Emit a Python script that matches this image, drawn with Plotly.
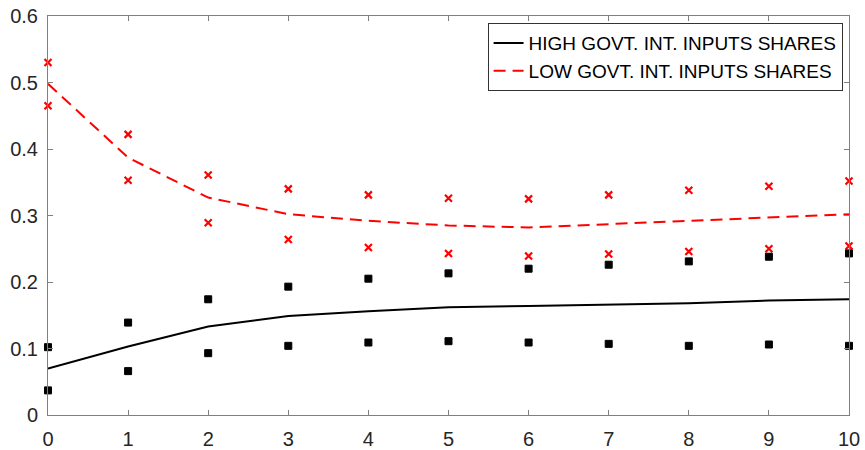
import plotly.graph_objects as go

horizon = [0, 1, 2, 3, 4, 5, 6, 7, 8, 9, 10]

high_line = [0.070, 0.103, 0.133, 0.149, 0.156, 0.162, 0.164, 0.166, 0.168, 0.172, 0.174]
high_upper = [0.102, 0.139, 0.174, 0.193, 0.205, 0.213, 0.220, 0.226, 0.231, 0.238, 0.243]
high_lower = [0.037, 0.066, 0.093, 0.104, 0.109, 0.111, 0.109, 0.107, 0.104, 0.106, 0.104]

low_line = [0.498, 0.387, 0.327, 0.302, 0.292, 0.285, 0.282, 0.287, 0.292, 0.297, 0.302]
low_upper = [0.530, 0.422, 0.361, 0.340, 0.331, 0.326, 0.325, 0.331, 0.338, 0.344, 0.352]
low_lower = [0.465, 0.353, 0.289, 0.264, 0.252, 0.243, 0.239, 0.242, 0.246, 0.250, 0.254]

x_ticks = [0, 1, 2, 3, 4, 5, 6, 7, 8, 9, 10]
y_ticks = [0, 0.1, 0.2, 0.3, 0.4, 0.5, 0.6]
y_tick_text = ["0", "0.1", "0.2", "0.3", "0.4", "0.5", "0.6"]

FONT = "Liberation Sans, Arial, Helvetica, sans-serif"

fig = go.Figure()

fig.add_trace(go.Scatter(x=horizon, y=high_line, mode="lines",
                         name="HIGH GOVT. INT. INPUTS SHARES",
                         line=dict(color="black", width=2)))
fig.add_trace(go.Scatter(x=horizon, y=low_line, mode="lines",
                         name="LOW GOVT. INT. INPUTS SHARES",
                         line=dict(color="#ff0000", width=2, dash="12px,7px")))

for vals in (low_upper, low_lower):
    fig.add_trace(go.Scatter(x=horizon, y=vals, mode="markers", showlegend=False,
                             marker=dict(symbol="x-thin", size=7,
                                         line=dict(color="#ff0000", width=2.2)),
                             cliponaxis=False))
for vals in (high_upper, high_lower):
    fig.add_trace(go.Scatter(x=horizon, y=vals, mode="markers", showlegend=False,
                             marker=dict(symbol="square", size=7, color="black",
                                         line=dict(color="black", width=1)),
                             cliponaxis=False))

axis_common = dict(
    showgrid=False, zeroline=False, showline=True, linecolor="#808080", linewidth=1,
    mirror="ticks", ticks="inside", ticklen=5, tickcolor="#808080", tickwidth=1,
    tickfont=dict(family=FONT, size=20, color="#262626"),
    automargin=False,
)

fig.update_layout(
    width=865, height=450,
    margin=dict(l=48, r=16, t=16, b=35),
    paper_bgcolor="white", plot_bgcolor="white",
    xaxis=dict(range=[0, 10], tickvals=x_ticks, ticktext=[str(v) for v in x_ticks],
               ticklabelstandoff=6, **axis_common),
    yaxis=dict(range=[0, 0.6], tickvals=y_ticks, ticktext=y_tick_text,
               ticklabelstandoff=5, **axis_common),
    legend=dict(x=0.992, y=0.982, xanchor="right", yanchor="top",
                bgcolor="white", bordercolor="#333333", borderwidth=1,
                font=dict(family=FONT, size=19, color="black"),
                itemwidth=30, tracegroupgap=0),
    showlegend=True,
)

fig.write_html("out.html",
               config={"displayModeBar": False},
               post_script="document.body.style.margin='0px';document.body.style.padding='0px';")
